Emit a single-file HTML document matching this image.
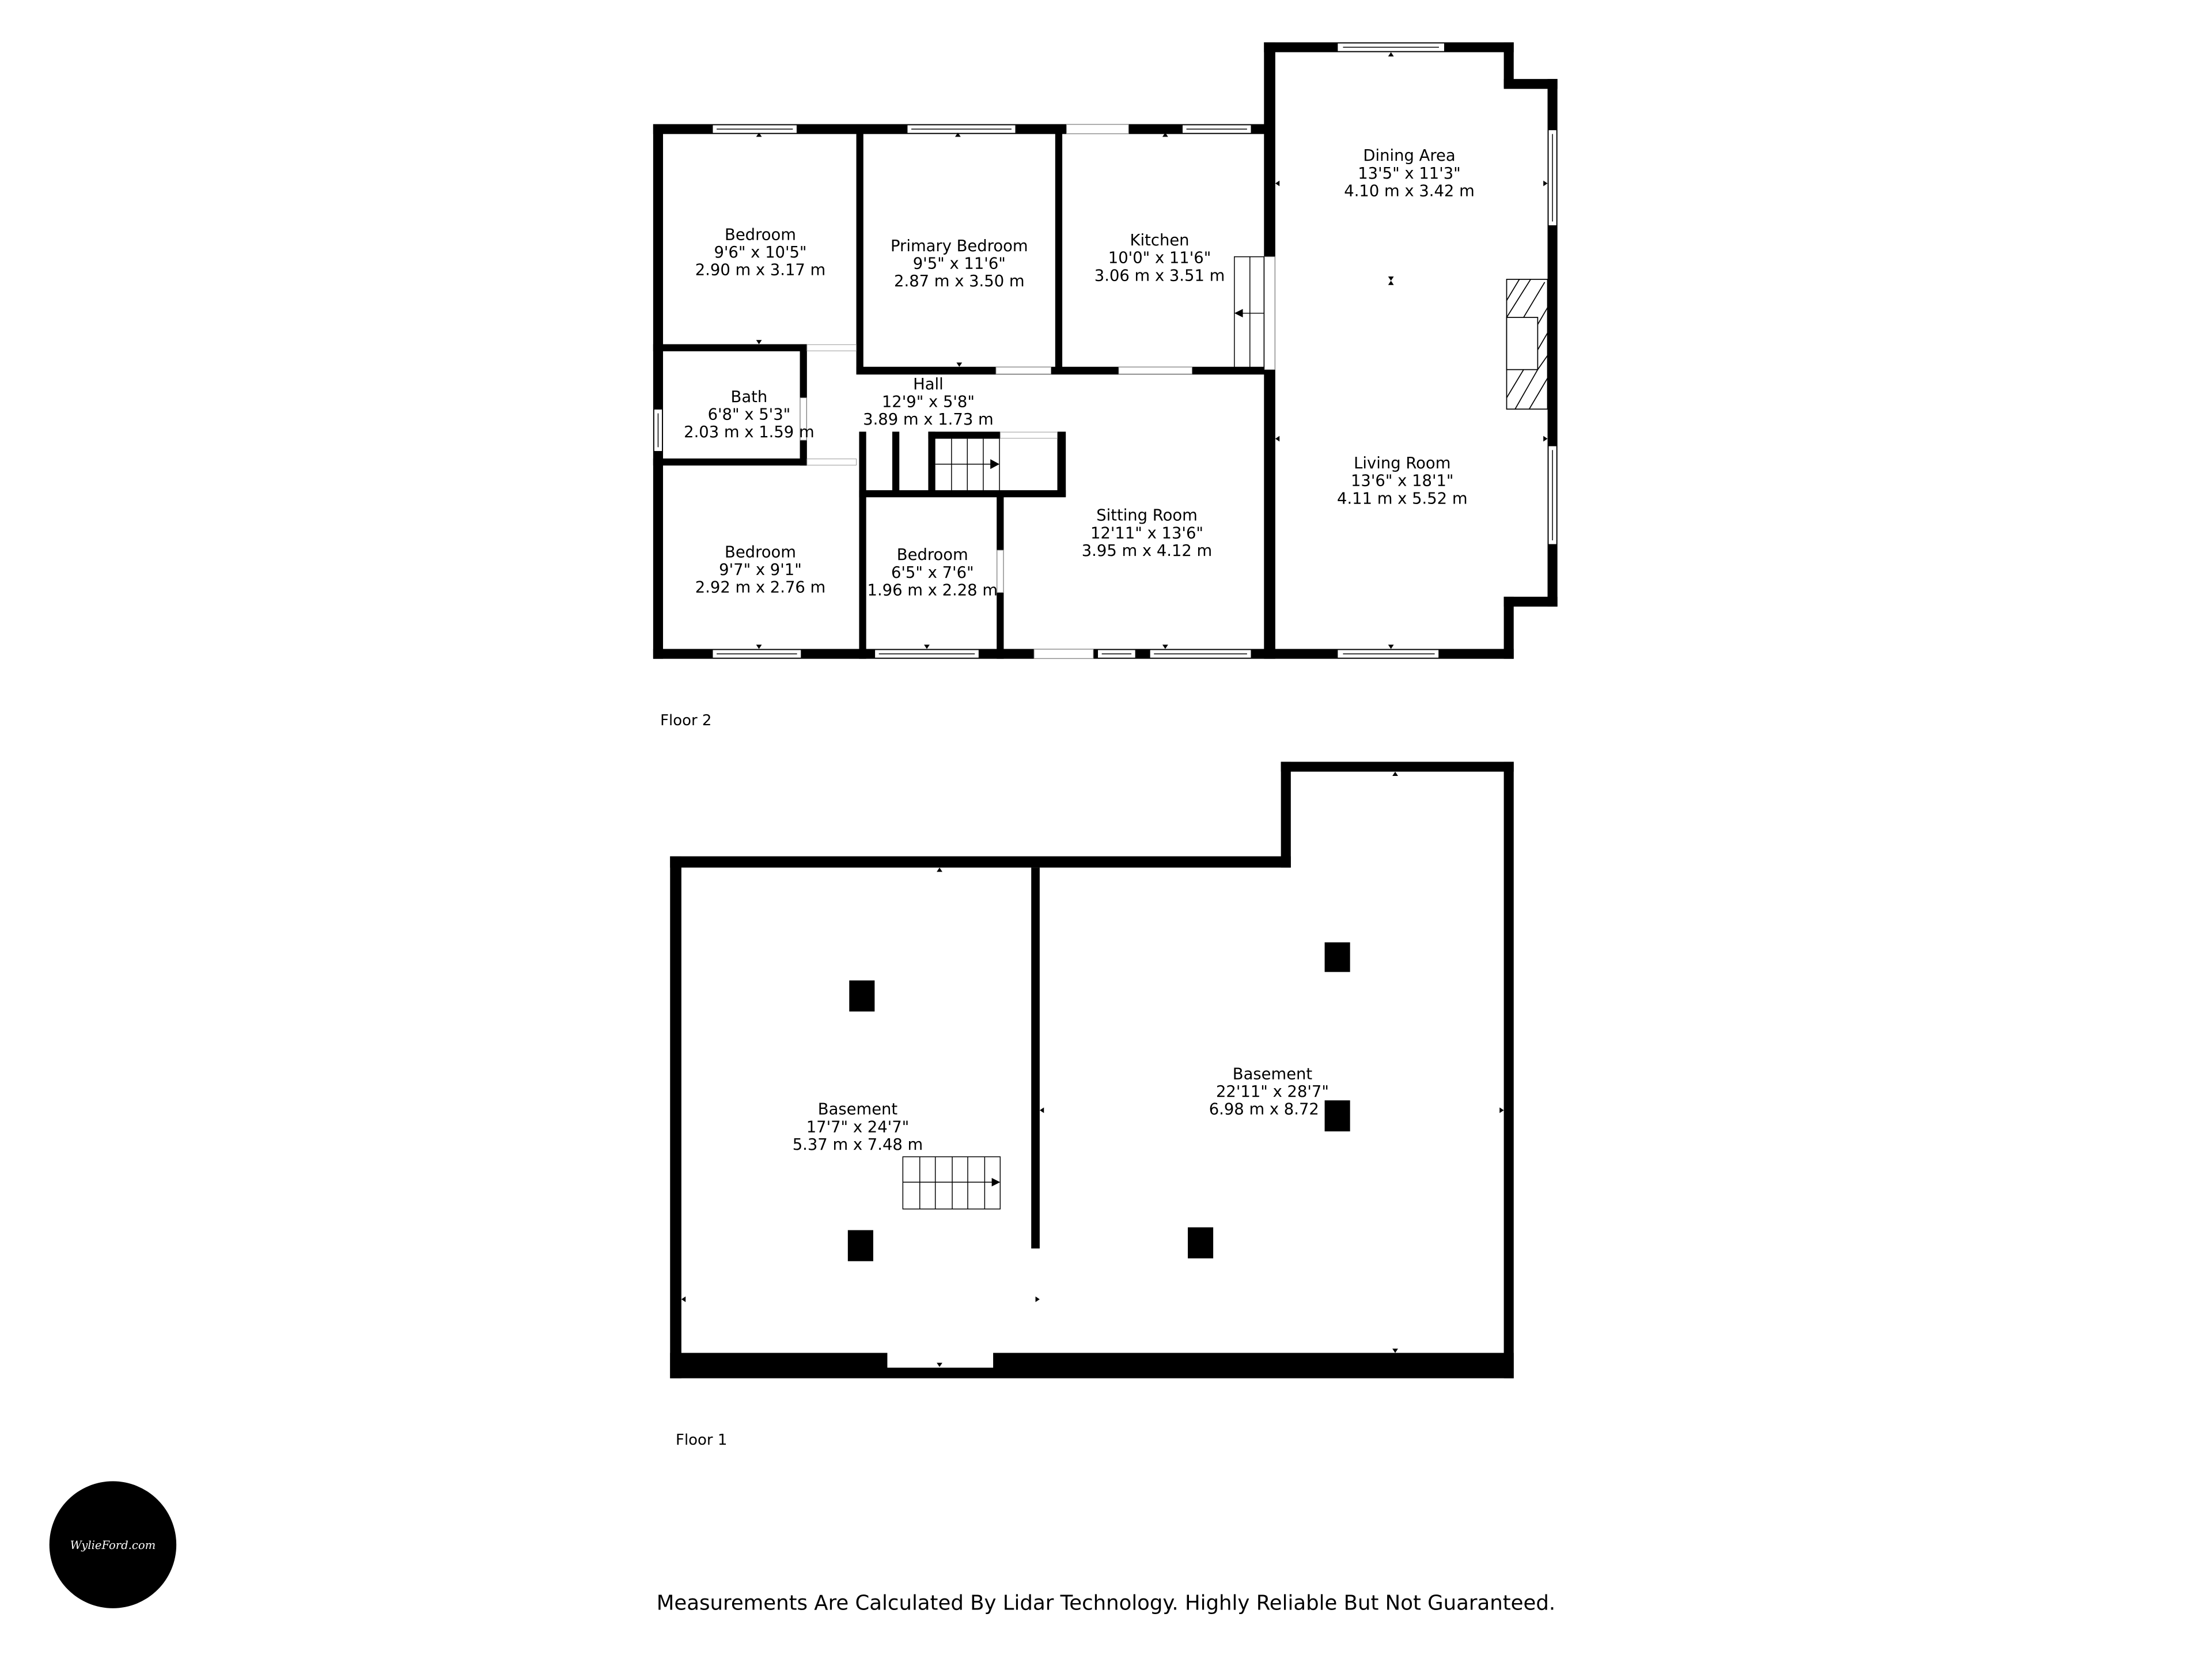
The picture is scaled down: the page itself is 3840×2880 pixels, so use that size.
<!DOCTYPE html>
<html><head><meta charset="utf-8"><style>
html,body{margin:0;padding:0;background:#fff;}
svg{display:block;}
text{font-family:"DejaVu Sans","Liberation Sans",sans-serif;fill:#000;}
</style></head><body>
<svg width="3840" height="2880" viewBox="0 0 1568 1176" xmlns="http://www.w3.org/2000/svg">
<rect width="1568" height="1176" fill="#fff"/>
<g fill="#000">
<rect x="463" y="88" width="437" height="7"/>
<rect x="463" y="88" width="7" height="379"/>
<rect x="463" y="460" width="610" height="7"/>
<rect x="896" y="30" width="8" height="437"/>
<rect x="896" y="30" width="177" height="7"/>
<rect x="1066" y="30" width="7" height="32"/>
<rect x="1066" y="56" width="38" height="7"/>
<rect x="1097" y="56" width="7" height="374"/>
<rect x="1066" y="423" width="38" height="7"/>
<rect x="1066" y="423" width="7" height="44"/>
<rect x="607" y="88" width="5" height="177"/>
<rect x="607" y="260" width="293" height="5.5"/>
<rect x="748" y="88" width="5" height="177"/>
<rect x="463" y="244" width="109" height="5"/>
<rect x="567" y="244" width="5" height="86"/>
<rect x="463" y="325" width="109" height="5"/>
<rect x="609" y="306" width="5" height="161"/>
<rect x="632.5" y="306" width="5" height="46"/>
<rect x="658" y="306" width="5" height="46"/>
<rect x="658" y="306" width="51" height="5"/>
<rect x="749.5" y="306" width="6" height="46"/>
<rect x="609" y="347.5" width="146.5" height="5"/>
<rect x="706.5" y="350" width="5" height="117"/>
</g>
<g fill="#fff" stroke="#999" stroke-width="0.4">
<rect x="572" y="244.3" width="35" height="4.4"/>
<rect x="572" y="325.3" width="35" height="4.4"/>
<rect x="706" y="260.3" width="39" height="4.8"/>
<rect x="793" y="260.3" width="52" height="4.8"/>
<rect x="709" y="306.3" width="40.5" height="4.4"/>
<rect x="706.8" y="390" width="4.4" height="30"/>
<rect x="756" y="88.3" width="44" height="6.4"/>
<rect x="733" y="460.3" width="42" height="6.4"/>
<rect x="896.3" y="182" width="7.4" height="80"/>
<rect x="567.3" y="282" width="4.4" height="30"/>
</g>
<g fill="#fff" stroke="#000" stroke-width="0.6">
<rect x="505" y="88.5" width="60" height="6"/><line x1="508" y1="91.5" x2="562" y2="91.5"/>
<rect x="643" y="88.5" width="77" height="6"/><line x1="646" y1="91.5" x2="717" y2="91.5"/>
<rect x="838" y="88.5" width="49" height="6"/><line x1="841" y1="91.5" x2="884" y2="91.5"/>
<rect x="948" y="30.5" width="76" height="6"/><line x1="952" y1="33.5" x2="1020" y2="33.5"/>
<rect x="505" y="460.5" width="63" height="6"/><line x1="508" y1="463.5" x2="565" y2="463.5"/>
<rect x="620" y="460.5" width="74" height="6"/><line x1="623" y1="463.5" x2="691" y2="463.5"/>
<rect x="778" y="460.5" width="27" height="6"/><line x1="781" y1="463.5" x2="802" y2="463.5"/>
<rect x="815" y="460.5" width="72" height="6"/><line x1="818" y1="463.5" x2="884" y2="463.5"/>
<rect x="948" y="460.5" width="72" height="6"/><line x1="952" y1="463.5" x2="1017" y2="463.5"/>
<rect x="1097.5" y="92" width="6" height="68"/><line x1="1100.5" y1="95" x2="1100.5" y2="157"/>
<rect x="1097.5" y="316" width="6" height="70"/><line x1="1100.5" y1="319" x2="1100.5" y2="383"/>
<rect x="463.5" y="290" width="6" height="30"/><line x1="466.5" y1="293" x2="466.5" y2="317"/>
</g>
<g stroke="#000" stroke-width="0.7" fill="none">
<rect x="1068" y="198" width="29" height="92" fill="#fff"/>
<line x1="1068" y1="213" x2="1077" y2="198"/><line x1="1068" y1="225" x2="1085" y2="198"/><line x1="1080" y1="225" x2="1095" y2="200"/>
<line x1="1090" y1="230" x2="1097" y2="218"/><line x1="1090" y1="248" x2="1097" y2="236"/><line x1="1090" y1="262" x2="1097" y2="252"/>
<line x1="1068" y1="282" x2="1080" y2="262"/><line x1="1074" y1="290" x2="1090" y2="262"/><line x1="1084" y1="290" x2="1097" y2="268"/>
<rect x="1068" y="225" width="22" height="37" fill="#fff"/>
</g>
<g stroke="#000" stroke-width="0.6" fill="none">
<rect x="875" y="182" width="21" height="80"/>
<line x1="886" y1="182" x2="886" y2="262"/>
<line x1="896" y1="222" x2="879" y2="222"/>
</g>
<polygon points="875,222 881,219 881,225" fill="#000"/>
<g stroke="#000" stroke-width="0.6" fill="none">
<line x1="674.5" y1="311" x2="674.5" y2="347.5"/>
<line x1="685.7" y1="311" x2="685.7" y2="347.5"/>
<line x1="697" y1="311" x2="697" y2="347.5"/>
<line x1="708.5" y1="311" x2="708.5" y2="347.5"/>
<line x1="663" y1="329" x2="703" y2="329"/>
</g>
<polygon points="708.5,329 702,325.5 702,332.5" fill="#000"/>
<g fill="#000">
<polygon points="538,94 536,97 540,97"/><polygon points="679,94 677,97 681,97"/><polygon points="826,94 824,97 828,97"/>
<polygon points="986,37 984,40 988,40"/><polygon points="538,244 536,241 540,241"/><polygon points="680,260 678,257 682,257"/>
<polygon points="538,460 536,457 540,457"/><polygon points="657,460 655,457 659,457"/><polygon points="826,460 824,457 828,457"/><polygon points="986,460 984,457 988,457"/>
<polygon points="904,130 907,128 907,132"/><polygon points="904,311 907,309 907,313"/><polygon points="1097,130 1094,128 1094,132"/><polygon points="1097,311 1094,309 1094,313"/>
<polygon points="984,196 988,196 986,199"/><polygon points="984,202 988,202 986,199"/>
</g>
<g font-size="11.2" text-anchor="middle">
<text x="539" y="170">Bedroom</text><text x="539" y="182.5">9'6" x 10'5"</text><text x="539" y="195">2.90 m x 3.17 m</text>
<text x="680" y="178">Primary Bedroom</text><text x="680" y="190.5">9'5" x 11'6"</text><text x="680" y="203">2.87 m x 3.50 m</text>
<text x="822" y="174">Kitchen</text><text x="822" y="186.5">10'0" x 11'6"</text><text x="822" y="199">3.06 m x 3.51 m</text>
<text x="999" y="114">Dining Area</text><text x="999" y="126.5">13'5" x 11'3"</text><text x="999" y="139">4.10 m x 3.42 m</text>
<text x="531" y="285">Bath</text><text x="531" y="297.5">6'8" x 5'3"</text><text x="531" y="310">2.03 m x 1.59 m</text>
<text x="658" y="276">Hall</text><text x="658" y="288.5">12'9" x 5'8"</text><text x="658" y="301">3.89 m x 1.73 m</text>
<text x="994" y="332">Living Room</text><text x="994" y="344.5">13'6" x 18'1"</text><text x="994" y="357">4.11 m x 5.52 m</text>
<text x="539" y="395">Bedroom</text><text x="539" y="407.5">9'7" x 9'1"</text><text x="539" y="420">2.92 m x 2.76 m</text>
<text x="661" y="397">Bedroom</text><text x="661" y="409.5">6'5" x 7'6"</text><text x="661" y="422">1.96 m x 2.28 m</text>
<text x="813" y="369">Sitting Room</text><text x="813" y="381.5">12'11" x 13'6"</text><text x="813" y="394">3.95 m x 4.12 m</text>
</g>
<text x="468" y="514" font-size="10.6">Floor 2</text>
<g fill="#000">
<rect x="475" y="607" width="8" height="370"/>
<rect x="475" y="607" width="440" height="8"/>
<rect x="908" y="540" width="7" height="75"/>
<rect x="908" y="540" width="165" height="7"/>
<rect x="1066" y="540" width="7" height="437"/>
<rect x="475" y="959" width="598" height="18"/>
<rect x="731" y="615" width="6" height="270"/>
<rect x="602" y="695" width="18" height="22"/>
<rect x="601" y="872" width="18" height="22"/>
<rect x="939" y="668" width="18" height="21"/>
<rect x="939" y="780" width="18" height="22"/>
<rect x="842" y="870" width="18" height="22"/>
</g>
<rect x="629" y="958" width="75" height="11.5" fill="#fff"/>
<g stroke="#000" stroke-width="0.6" fill="none">
<rect x="640" y="820" width="69" height="37"/>
<line x1="652" y1="820" x2="652" y2="857"/><line x1="663" y1="820" x2="663" y2="857"/><line x1="675" y1="820" x2="675" y2="857"/><line x1="686" y1="820" x2="686" y2="857"/><line x1="698" y1="820" x2="698" y2="857"/>
<line x1="640" y1="838" x2="704" y2="838"/>
</g>
<polygon points="709,838 703,835 703,841" fill="#000"/>
<g fill="#000">
<polygon points="666,615 664,618 668,618"/><polygon points="989,547 987,550 991,550"/><polygon points="989,959 987,956 991,956"/><polygon points="666,969 664,966 668,966"/>
<polygon points="483,921 486,919 486,923"/><polygon points="737,921 734,919 734,923"/><polygon points="737,787 740,785 740,789"/><polygon points="1066,787 1063,785 1063,789"/>
</g>
<g font-size="11.2" text-anchor="middle">
<text x="608" y="790">Basement</text><text x="608" y="802.5">17'7" x 24'7"</text><text x="608" y="815">5.37 m x 7.48 m</text>
<text x="902" y="765">Basement</text><text x="902" y="777.5">22'11" x 28'7"</text><text x="896" y="790">6.98 m x 8.72</text>
</g>
<text x="479" y="1024" font-size="10.6">Floor 1</text>
<circle cx="80" cy="1095" r="45" fill="#000"/>
<text x="80" y="1098" font-size="8" text-anchor="middle" font-style="italic" style="font-family:'DejaVu Serif','Liberation Serif',serif;fill:#fff">WylieFord.com</text>
<text x="784" y="1141" font-size="14.5" text-anchor="middle">Measurements Are Calculated By Lidar Technology. Highly Reliable But Not Guaranteed.</text>
</svg>
</body></html>
